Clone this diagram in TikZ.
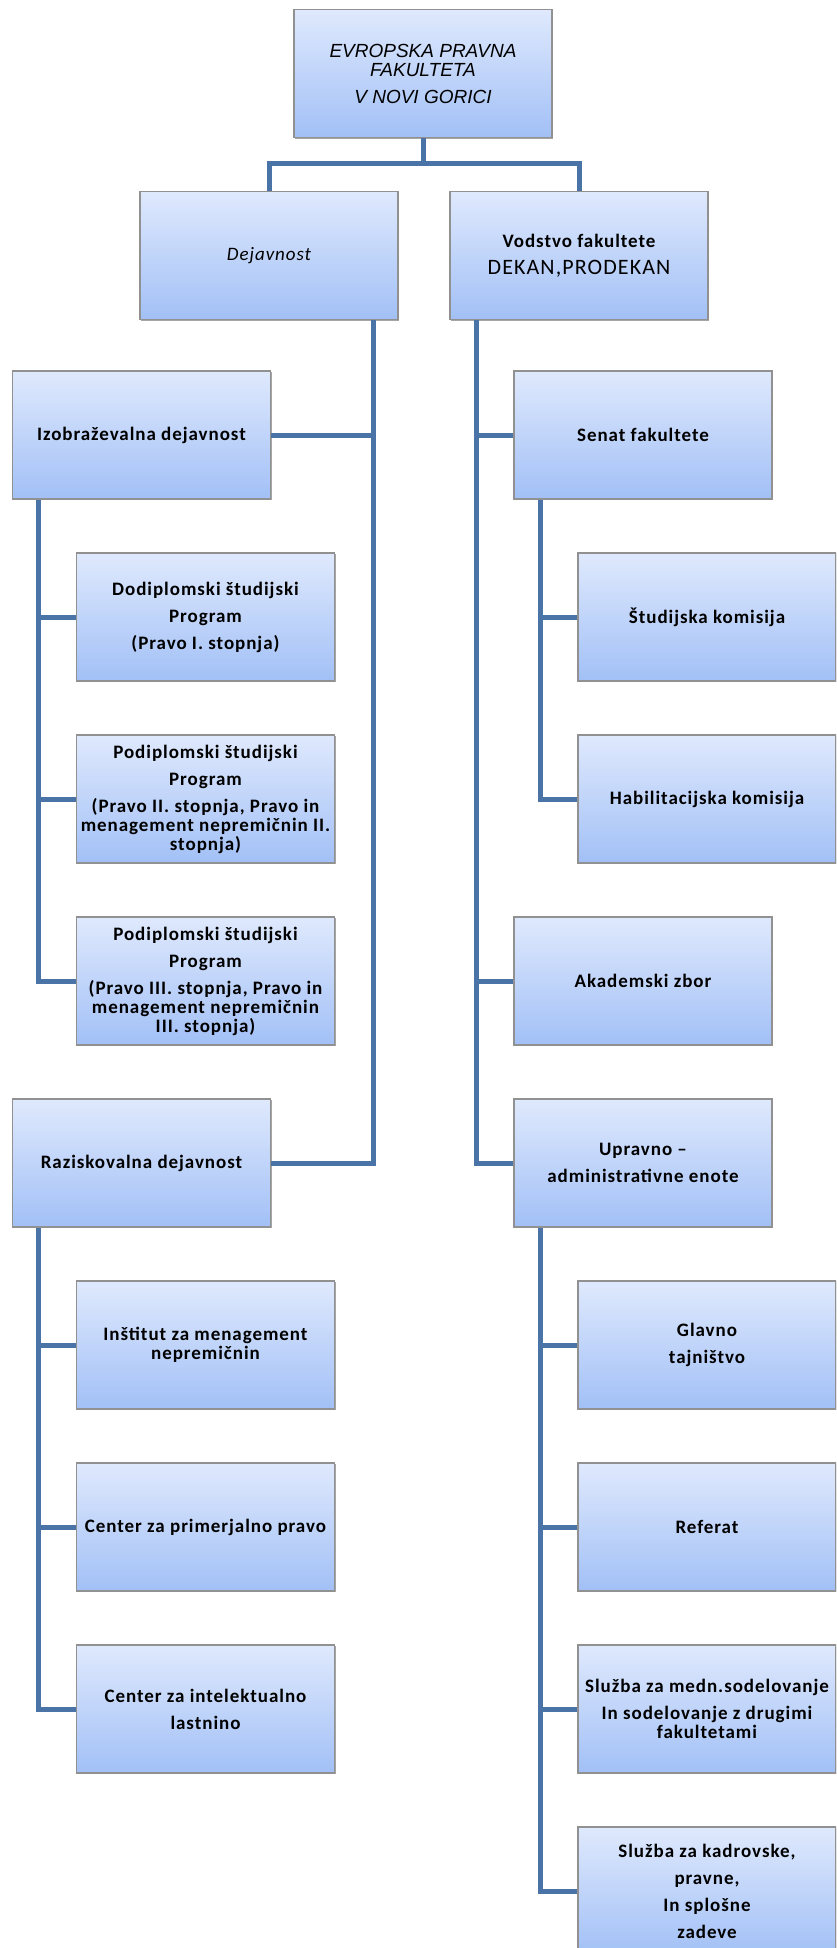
\documentclass[tikz,border=0pt]{standalone}
\usepackage{fontspec}
\setmainfont{Carlito}[LetterSpace=5]
\newfontfamily\headfont{Liberation Sans}
\usetikzlibrary{positioning,shadows}
\definecolor{boxtop}{RGB}{223,233,253}
\definecolor{boxbottom}{RGB}{162,192,246}
\definecolor{boxline}{RGB}{145,145,145}
\definecolor{linkblue}{RGB}{74,115,168}

\begin{document}
\begin{tikzpicture}[x=0.75pt, y=-0.75pt,
  every unit/.style={draw=boxline, line width=0.8pt, top color=boxtop, bottom color=boxbottom,
    minimum width=193.5pt, minimum height=96pt, inner sep=0pt, align=center,
    font=\bfseries\fontsize{14.25pt}{20.25pt}\selectfont,
    drop shadow={shadow xshift=1pt, shadow yshift=-1pt, fill=black!70, opacity=.5}},
  unit head/.style={font=\headfont\itshape\fontsize{14.25pt}{20.25pt}\selectfont},
  unit dej/.style={font=\itshape\fontsize{14.25pt}{20.25pt}\selectfont},
  link/.style={draw=linkblue, line width=3.75pt}]

\useasboundingbox (0,0) rectangle (836,1948);
\clip (0,0) rectangle (836,1948);

\node [every unit/.try, unit head/.try] (fac) at (423,73.5)
  {EVROPSKA PRAVNA\\[-6pt]FAKULTETA\\V NOVI GORICI};
\node [every unit/.try, unit dej/.try] (dej) at (269,255.5) {Dejavnost};
\node [every unit/.try] (vod) at (579,255.5)
  {Vodstvo fakultete\\{\mdseries\fontsize{16.5pt}{20.25pt}\selectfont DEKAN,PRODEKAN}};

\node [every unit/.try] (izo) at (141.5,435) {Izobraževalna dejavnost};
\node [every unit/.try] (razisk) at (141.5,1163) {Raziskovalna dejavnost};
\node [every unit/.try] (senat) at (643,435) {Senat fakultete};
\node [every unit/.try] (zbor) at (643,981) {Akademski zbor};
\node [every unit/.try] (uprava) at (643,1163) {Upravno --\\administrativne enote};

\foreach \l [count=\i] in {{Dodiplomski študijski\\Program\\(Pravo I. stopnja)},
    {Podiplomski študijski\\Program\\(Pravo II. stopnja, Pravo in\\[-6pt]menagement nepremičnin II.\\[-6pt]stopnja)},
    {Podiplomski študijski\\Program\\(Pravo III. stopnja, Pravo in\\[-6pt]menagement nepremičnin\\[-6pt]III. stopnja)}}
  \node [every unit/.try] (izo-\i) at (205.5,435+182*\i) {\l};

\foreach \l [count=\i] in {{Inštitut za menagement\\[-6pt]nepremičnin},
    {Center za primerjalno pravo},
    {Center za intelektualno\\lastnino}}
  \node [every unit/.try] (razisk-\i) at (205.5,1163+182*\i) {\l};

\foreach \l [count=\i] in {{Študijska komisija}, {Habilitacijska komisija}}
  \node [every unit/.try] (senat-\i) at (707,435+182*\i) {\l};

\foreach \l [count=\i] in {{Glavno\\tajništvo}, {Referat},
    {Služba za medn.sodelovanje\\In sodelovanje z drugimi\\[-6pt]fakultetami},
    {Služba za kadrovske,\\pravne,\\In splošne\\zadeve}}
  \node [every unit/.try] (uprava-\i) at (707,1163+182*\i) {\l};

\foreach \n in {dej,vod}
  \draw [link] (fac.south) -- ++(0,25) -| (\n.north);

\foreach \n in {izo,razisk}
  \draw [link] (\n.east) -| ([xshift=-18.75pt]dej.south east);

\foreach \n in {senat,zbor,uprava}
  \draw [link] (\n.west) -| ([xshift=20.25pt]vod.south west);

\foreach \i in {1,...,3}
  \draw [link] (izo-\i.west) -| ([xshift=20.25pt]izo.south west);

\foreach \i in {1,...,3}
  \draw [link] (razisk-\i.west) -| ([xshift=20.25pt]razisk.south west);

\foreach \i in {1,2}
  \draw [link] (senat-\i.west) -| ([xshift=20.25pt]senat.south west);

\foreach \i in {1,...,4}
  \draw [link] (uprava-\i.west) -| ([xshift=20.25pt]uprava.south west);

\end{tikzpicture}
\end{document}
